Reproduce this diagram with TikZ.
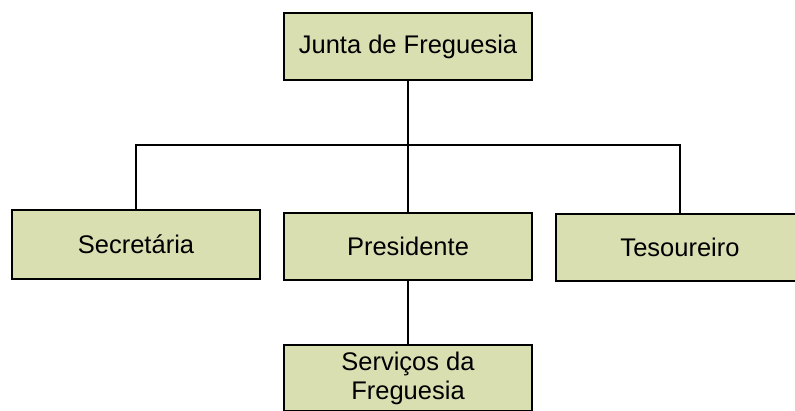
\documentclass[tikz,border=0pt]{standalone}
\usepackage{fontspec}
\setmainfont{Liberation Sans}
\definecolor{boxfill}{RGB}{218,223,178}
\begin{document}
\begin{tikzpicture}[x=1pt,y=-1pt,
  orgbox/.style={draw=black, fill=boxfill, line width=2.6pt, inner sep=0pt,
    minimum width=248pt, minimum height=67pt, align=center,
    font=\fontsize{25.5}{29}\selectfont},
  link/.style={draw=black, line width=2.6pt}]
\useasboundingbox (0,0) rectangle (795,411);
\clip (0,0) rectangle (795,411);
\fill[white] (0,0) rectangle (795,411);
\node[orgbox] (top) at (408,46.5) {Junta de Freguesia};
\node[orgbox, minimum height=69pt] (sec) at (136,244.5) {Secretária};
\node[orgbox] (pres) at (408,246.5) {Presidente};
\node[orgbox] (tes) at (680,247.5) {Tesoureiro};
\node[orgbox, minimum height=66pt] (serv) at (408,378) {Serviços da\\Freguesia};
\coordinate (bus) at (408,145);
\draw[link] (top.south) -- (pres.north);
\draw[link] (sec.north) |- (bus) -| (tes.north);
\draw[link] (pres.south) -- (serv.north);
\end{tikzpicture}
\end{document}
